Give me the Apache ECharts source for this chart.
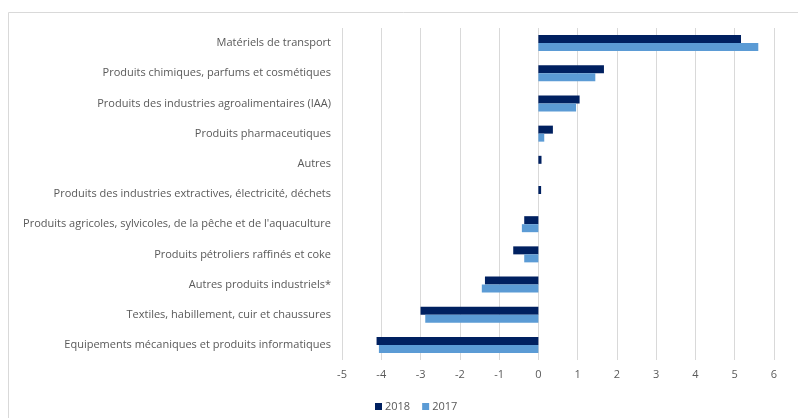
<!DOCTYPE html>
<html>
<head>
<meta charset="utf-8">
<script src="https://cdn.jsdelivr.net/npm/echarts@6/dist/echarts.min.js"></script>
<style>
html,body{margin:0;padding:0;background:#fff;}
#c{width:798px;height:418px;}
</style>
</head>
<body>
<div id="c"></div>
<script>
const categories = [
  "Matériels de transport",
  "Produits chimiques, parfums et cosmétiques",
  "Produits des industries agroalimentaires (IAA)",
  "Produits pharmaceutiques",
  "Autres",
  "Produits des industries extractives, électricité, déchets",
  "Produits agricoles, sylvicoles, de la pêche et de l'aquaculture",
  "Produits pétroliers raffinés et coke",
  "Autres produits industriels*",
  "Textiles, habillement, cuir et chaussures",
  "Equipements mécaniques et produits informatiques"
];
const values2018 = [5.16, 1.67, 1.05, 0.37, 0.08, 0.07, -0.36, -0.64, -1.36, -3.0, -4.12];
const values2017 = [5.60, 1.45, 0.96, 0.15, 0.0, 0.0, -0.42, -0.36, -1.44, -2.88, -4.06];
const xTicks = { min: -5, max: 6, interval: 1 };

const chart = echarts.init(document.getElementById('c'));
const font = "'Open Sans', 'Liberation Sans', sans-serif";
chart.setOption({
  animation: false,
  graphic: [{
    type: 'rect',
    shape: { x: 8.5, y: 12.5, width: 820, height: 440 },
    style: { fill: 'none', stroke: '#d9d9d9', lineWidth: 1 },
    silent: true
  }],
  grid: { left: 342, right: 24, top: 28, bottom: 58, containLabel: false },
  legend: {
    data: ['2018', '2017'],
    left: 370,
    top: 396,
    itemWidth: 7,
    itemHeight: 7,
    itemGap: 12,
    icon: 'rect',
    textStyle: { color: '#595959', fontSize: 11, fontFamily: font, padding: [0, 0, 0, -2] }
  },
  xAxis: {
    type: 'value',
    min: xTicks.min, max: xTicks.max, interval: xTicks.interval,
    axisLine: { show: false },
    axisTick: { show: false },
    splitLine: { show: true, lineStyle: { color: '#d9d9d9', width: 1 } },
    axisLabel: { color: '#595959', fontSize: 11, fontFamily: font, margin: 9 }
  },
  yAxis: {
    type: 'category',
    inverse: true,
    data: categories,
    axisLine: { show: false },
    axisTick: { show: false },
    axisLabel: { color: '#595959', fontSize: 11, fontFamily: font, margin: 11 }
  },
  series: [
    { name: '2018', type: 'bar', data: values2018, barWidth: 8, barGap: '0%',
      itemStyle: { color: '#002060' } },
    { name: '2017', type: 'bar', data: values2017, barWidth: 8, barGap: '0%',
      itemStyle: { color: '#5B9BD5' } }
  ]
});
</script>
</body>
</html>
